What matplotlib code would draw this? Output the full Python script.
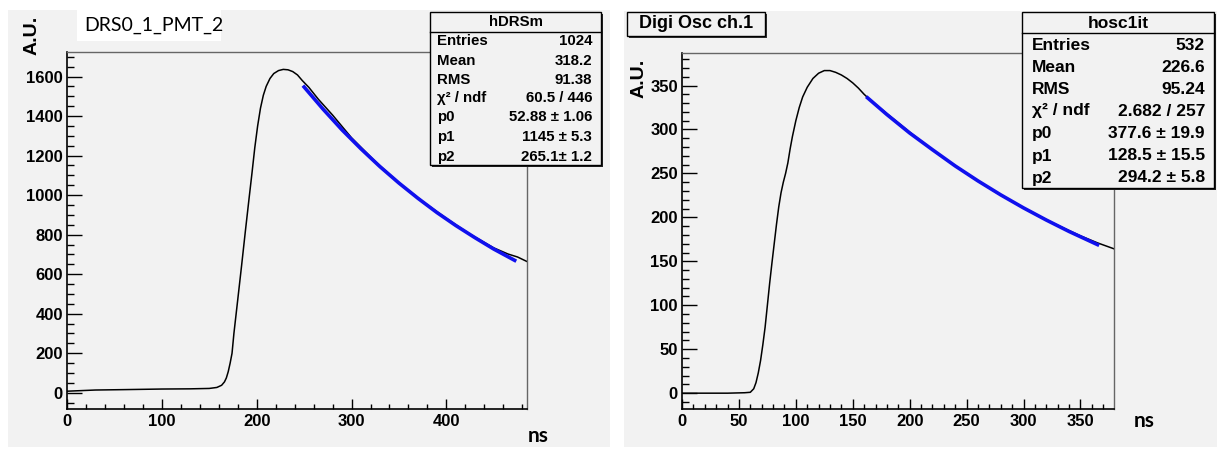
import matplotlib
matplotlib.use('Agg')
import matplotlib.pyplot as plt
from matplotlib.patches import Rectangle
from matplotlib.ticker import MultipleLocator

# ---------------- data ----------------
# Left panel: DRS0_1_PMT_2 waveform (ns, A.U.)
drs_t = [0, 10, 30, 60, 100, 130, 150, 158, 163, 166, 168, 170, 172, 174, 176, 180,
         184, 188, 192, 195, 198, 201, 204, 207, 210, 214, 218, 223,
         228, 233, 238, 243, 248, 255, 265, 280, 300, 325, 350, 375, 400, 425, 450, 465, 475, 485]
drs_v = [8, 10, 14, 16, 19, 20, 22, 27, 38, 55, 75, 107, 150, 200, 301, 470,
         640, 815, 985, 1110, 1240, 1350, 1440, 1505, 1550, 1590, 1615, 1630,
         1636, 1634, 1625, 1608, 1580, 1545, 1485, 1405, 1290, 1170, 1062, 968, 882, 802, 733, 702, 687, 664]
# Left fit curve (blue)
drs_fit_t = [250, 270, 290, 310, 330, 350, 370, 390, 410, 430, 450, 472]
drs_fit_v = [1547, 1435, 1330, 1234, 1144, 1061, 984, 912, 846, 785, 727, 670]

# Right panel: Digi Osc ch.1 waveform
osc_t = [0, 20, 40, 55, 60, 63, 65, 67, 69, 71, 73, 75, 77, 79, 81, 83, 85, 87, 89, 91, 93,
         95, 97, 100, 103, 106, 110, 115, 120, 125, 130, 135, 140, 145, 150, 155, 160, 165,
         180, 200, 225, 250, 275, 300, 325, 350, 365, 380]
osc_v = [0, 0, 0, 0.5, 1, 5, 12, 23, 37, 55, 75, 100, 125, 148, 170, 192, 212, 228, 240, 250, 262,
         278, 292, 310, 325, 337, 348, 358, 364, 367, 367, 365, 362, 358, 353, 347, 340, 334,
         318, 297, 272, 250, 229, 211, 194, 179, 171, 164]
osc_fit_t = [163, 180, 200, 220, 240, 260, 280, 300, 320, 340, 365]
osc_fit_v = [336, 317, 296, 277, 258.5, 241.5, 225.6, 210.8, 197, 184, 169]

# Stats boxes
drs_stats_name = "hDRSm"
drs_stats_labels = ["Entries", "Mean", "RMS", "χ² / ndf", "p0", "p1", "p2"]
drs_stats_values = ["1024", "318.2", "91.38", "60.5 / 446", "52.88 ± 1.06", "1145 ± 5.3", "265.1± 1.2"]
osc_stats_name = "hosc1it"
osc_stats_labels = ["Entries", "Mean", "RMS", "χ² / ndf", "p0", "p1", "p2"]
osc_stats_values = ["532", "226.6", "95.24", "2.682 / 257", "377.6 ± 19.9", "128.5 ± 15.5", "294.2 ± 5.8"]

# ---------------- figure ----------------
plt.rcParams['font.family'] = ['Liberation Sans', 'DejaVu Sans']
plt.rcParams['font.weight'] = 'bold'

W, H = 1217, 449
fig = plt.figure(figsize=(W / 100, H / 100), dpi=100)
fig.patch.set_facecolor('white')
BG = '#f2f2f2'


def fx(x):
    return x / W


def fy(y):
    return 1 - y / H


def rect(x0, y0, x1, y1, **kw):
    r = Rectangle((fx(x0), fy(y1)), fx(x1) - fx(x0), fy(y0) - fy(y1),
                  transform=fig.transFigure, **kw)
    fig.add_artist(r)
    return r


def hline(x0, x1, y, **kw):
    fig.add_artist(plt.Line2D([fx(x0), fx(x1)], [fy(y), fy(y)], transform=fig.transFigure, **kw))


# panel backgrounds
rect(8, 10, 610, 447, facecolor=BG, edgecolor='none', zorder=-10)
rect(624, 11, 1217, 447, facecolor=BG, edgecolor='none', zorder=-10)


def make_axes(x0, y0, x1, y1):
    ax = fig.add_axes([fx(x0), fy(y1), fx(x1) - fx(x0), fy(y0) - fy(y1)])
    ax.set_facecolor(BG)
    for s in ['left', 'bottom']:
        ax.spines[s].set_color('black')
        ax.spines[s].set_linewidth(1.2)
    for s in ['top', 'right']:
        ax.spines[s].set_color('#666666')
        ax.spines[s].set_linewidth(1.0)
    ax.tick_params(axis='y', which='major', direction='in', length=10.8, width=1, pad=3,
                   labelsize=12, right=False)
    ax.tick_params(axis='y', which='minor', direction='in', length=5, width=1, right=False)
    ax.tick_params(axis='x', which='major', direction='in', length=7.2, width=1, pad=3.5,
                   labelsize=12, top=False)
    ax.tick_params(axis='x', which='minor', direction='in', length=3.6, width=1, top=False)
    return ax


def bold_ticks(ax):
    for lbl in ax.get_xticklabels() + ax.get_yticklabels():
        lbl.set_fontweight('bold')
        lbl.set_family(['Liberation Sans', 'DejaVu Sans'])


# ---- left panel ----
axL = make_axes(67, 52, 527, 409)
axL.plot(drs_t, drs_v, color='black', lw=1.1, zorder=2)
axL.plot(drs_fit_t, drs_fit_v, color='#1010ee', lw=2.6, zorder=3)
axL.set_xlim(0, 485)
axL.set_ylim(-82, 1724)
axL.xaxis.set_major_locator(MultipleLocator(100))
axL.xaxis.set_minor_locator(MultipleLocator(20))
axL.yaxis.set_major_locator(MultipleLocator(200))
axL.yaxis.set_minor_locator(MultipleLocator(50))
bold_ticks(axL)

# ---- right panel ----
axR = make_axes(682, 53, 1114, 409)
axR.plot(osc_t, osc_v, color='black', lw=1.1, zorder=2)
axR.plot(osc_fit_t, osc_fit_v, color='#1010ee', lw=2.6, zorder=3)
axR.set_xlim(0, 379.5)
axR.set_ylim(-18, 387)
axR.xaxis.set_major_locator(MultipleLocator(50))
axR.xaxis.set_minor_locator(MultipleLocator(10))
axR.yaxis.set_major_locator(MultipleLocator(50))
axR.yaxis.set_minor_locator(MultipleLocator(10))
bold_ticks(axR)

# axis labels
fig.text(fx(32), fy(35), "A.U.", rotation=90, ha='center', va='center', fontsize=14, fontweight='bold')
fig.text(fx(639), fy(78), "A.U.", rotation=90, ha='center', va='center', fontsize=14, fontweight='bold')
fig.text(fx(538), fy(436), "ns", ha='center', va='center', fontsize=15, family='Lato', fontweight='bold')
fig.text(fx(1144), fy(421), "ns", ha='center', va='center', fontsize=15, family='Lato', fontweight='bold')

# titles
rect(77, 10, 221, 41, facecolor='white', edgecolor='none', zorder=4)
fig.text(fx(84), fy(25.5), "DRS0_1_PMT_2", ha='left', va='center', fontsize=14, family='Lato',
         fontweight='normal', zorder=5)
rect(629, 14, 767, 38, facecolor='#333333', edgecolor='none', zorder=4)
rect(627, 12, 765, 36, facecolor=BG, edgecolor='black', lw=1, zorder=4.5)
fig.text(fx(696), fy(24), "Digi Osc ch.1", ha='center', va='center', fontsize=13, fontweight='bold', zorder=5)


def stats_box(x0, y0, x1, y1, ysep, yhead, name, labels, values, rows, xl, xr, fs):
    rect(x0 + 2, y0 + 2, x1 + 2, y1 + 2, facecolor='#222222', edgecolor='none', zorder=6)
    rect(x0, y0, x1, y1, facecolor=BG, edgecolor='black', lw=1, zorder=6.5)
    hline(x0, x1, ysep, color='black', lw=1, zorder=7)
    fig.text(fx((x0 + x1) / 2), fy(yhead), name, ha='center', va='center', fontsize=fs,
             fontweight='bold', zorder=8)
    for lab, val, yy in zip(labels, values, rows):
        fig.text(fx(xl), fy(yy), lab, ha='left', va='center', fontsize=fs, fontweight='bold', zorder=8)
        fig.text(fx(xr), fy(yy), val, ha='right', va='center', fontsize=fs, fontweight='bold', zorder=8)


stats_box(430, 12, 601, 165, 32, 22, drs_stats_name, drs_stats_labels, drs_stats_values,
          [41, 61, 80, 98, 117, 137, 157], 437, 592, 10.8)
stats_box(1022, 12, 1214, 188, 33, 23, osc_stats_name, osc_stats_labels, osc_stats_values,
          [45, 67, 89, 111, 133, 156, 178], 1032, 1205, 12.5)

fig.savefig('out.png', dpi=100, facecolor='white')
